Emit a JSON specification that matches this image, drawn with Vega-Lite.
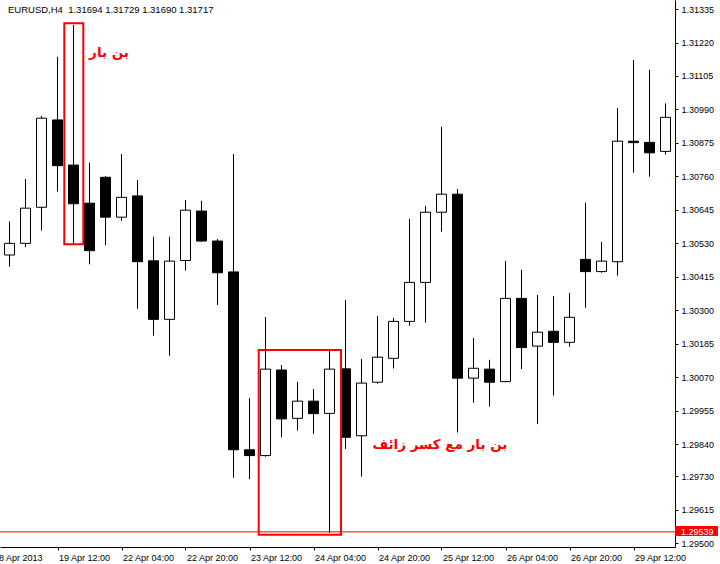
{
  "$schema": "https://vega.github.io/schema/vega-lite/v6.json",
  "width": 675,
  "height": 547,
  "autosize": {"type": "none"},
  "padding": {"left": 0, "top": 0, "right": 45, "bottom": 17},
  "background": "white",
  "config": {"view": {"stroke": null}, "font": "Liberation Sans", "scale": {"continuousPadding": 0},
    "axisX": {"title": null, "grid": false, "labelAlign": "left", "labelBaseline": "top", "labelPadding": 3, "labelFlush": false, "labelOverlap": false, "labelBound": false, "tickSize": 3, "tickColor": "#000000", "domainColor": "#000000", "labelColor": "#000000", "labelFont": "Liberation Sans", "labelFontSize": 9},
    "axisY": {"title": null, "grid": false, "labelFlush": false, "labelOverlap": false, "labelBound": false, "tickSize": 3, "labelPadding": 3, "tickColor": "#000000", "domainColor": "#000000", "labelColor": "#000000", "labelFont": "Liberation Sans", "labelFontSize": 9}
  },
  "title": {"text": "EURUSD,H4\u00a0\u00a01.31694 1.31729 1.31690 1.31717", "anchor": "start", "orient": "top", "frame": "group", "offset": -22, "baseline": "alphabetic", "dx": 8, "fontSize": 9.5, "fontWeight": "normal", "color": "#000000", "font": "Liberation Sans"},
  "datasets": {
    "bars": [
      {"i": 0, "t": "19 Apr 00:00", "open": 1.30490, "high": 1.30605, "low": 1.30450, "close": 1.30530},
      {"i": 1, "t": "19 Apr 04:00", "open": 1.30530, "high": 1.30751, "low": 1.30517, "close": 1.30651},
      {"i": 2, "t": "19 Apr 08:00", "open": 1.30654, "high": 1.30968, "low": 1.30574, "close": 1.30960},
      {"i": 3, "t": "19 Apr 12:00", "open": 1.30954, "high": 1.31171, "low": 1.30708, "close": 1.30797},
      {"i": 4, "t": "19 Apr 16:00", "open": 1.30799, "high": 1.31280, "low": 1.30527, "close": 1.30666},
      {"i": 5, "t": "19 Apr 20:00", "open": 1.30668, "high": 1.30807, "low": 1.30458, "close": 1.30505},
      {"i": 6, "t": "22 Apr 00:00", "open": 1.30757, "high": 1.30761, "low": 1.30524, "close": 1.30620},
      {"i": 7, "t": "22 Apr 04:00", "open": 1.30620, "high": 1.30837, "low": 1.30608, "close": 1.30688},
      {"i": 8, "t": "22 Apr 08:00", "open": 1.30693, "high": 1.30748, "low": 1.30305, "close": 1.30467},
      {"i": 9, "t": "22 Apr 12:00", "open": 1.30470, "high": 1.30553, "low": 1.30213, "close": 1.30269},
      {"i": 10, "t": "22 Apr 16:00", "open": 1.30269, "high": 1.30553, "low": 1.30144, "close": 1.30469},
      {"i": 11, "t": "22 Apr 20:00", "open": 1.30471, "high": 1.30679, "low": 1.30436, "close": 1.30644},
      {"i": 12, "t": "23 Apr 00:00", "open": 1.30641, "high": 1.30676, "low": 1.30536, "close": 1.30538},
      {"i": 13, "t": "23 Apr 04:00", "open": 1.30538, "high": 1.30545, "low": 1.30318, "close": 1.30429},
      {"i": 14, "t": "23 Apr 08:00", "open": 1.30432, "high": 1.30837, "low": 1.29725, "close": 1.29821},
      {"i": 15, "t": "23 Apr 12:00", "open": 1.29821, "high": 1.29998, "low": 1.29720, "close": 1.29801},
      {"i": 16, "t": "23 Apr 16:00", "open": 1.29801, "high": 1.30277, "low": 1.29797, "close": 1.30098},
      {"i": 17, "t": "23 Apr 20:00", "open": 1.30095, "high": 1.30112, "low": 1.29863, "close": 1.29927},
      {"i": 18, "t": "24 Apr 00:00", "open": 1.29929, "high": 1.30054, "low": 1.29887, "close": 1.29988},
      {"i": 19, "t": "24 Apr 04:00", "open": 1.29988, "high": 1.30030, "low": 1.29876, "close": 1.29945},
      {"i": 20, "t": "24 Apr 08:00", "open": 1.29946, "high": 1.30164, "low": 1.29536, "close": 1.30098},
      {"i": 21, "t": "24 Apr 12:00", "open": 1.30099, "high": 1.30336, "low": 1.29824, "close": 1.29864},
      {"i": 22, "t": "24 Apr 16:00", "open": 1.29869, "high": 1.30133, "low": 1.29729, "close": 1.30050},
      {"i": 23, "t": "24 Apr 20:00", "open": 1.30053, "high": 1.30281, "low": 1.30048, "close": 1.30139},
      {"i": 24, "t": "25 Apr 00:00", "open": 1.30135, "high": 1.30274, "low": 1.30100, "close": 1.30262},
      {"i": 25, "t": "25 Apr 04:00", "open": 1.30262, "high": 1.30614, "low": 1.30247, "close": 1.30396},
      {"i": 26, "t": "25 Apr 08:00", "open": 1.30396, "high": 1.30658, "low": 1.30258, "close": 1.30637},
      {"i": 27, "t": "25 Apr 12:00", "open": 1.30637, "high": 1.30931, "low": 1.30570, "close": 1.30699},
      {"i": 28, "t": "25 Apr 16:00", "open": 1.30699, "high": 1.30717, "low": 1.29880, "close": 1.30067},
      {"i": 29, "t": "25 Apr 20:00", "open": 1.30067, "high": 1.30205, "low": 1.29983, "close": 1.30101},
      {"i": 30, "t": "26 Apr 00:00", "open": 1.30098, "high": 1.30130, "low": 1.29969, "close": 1.30053},
      {"i": 31, "t": "26 Apr 04:00", "open": 1.30055, "high": 1.30470, "low": 1.30053, "close": 1.30341},
      {"i": 32, "t": "26 Apr 08:00", "open": 1.30341, "high": 1.30439, "low": 1.30098, "close": 1.30172},
      {"i": 33, "t": "26 Apr 12:00", "open": 1.30177, "high": 1.30353, "low": 1.29909, "close": 1.30225},
      {"i": 34, "t": "26 Apr 16:00", "open": 1.30228, "high": 1.30349, "low": 1.30007, "close": 1.30190},
      {"i": 35, "t": "26 Apr 20:00", "open": 1.30190, "high": 1.30360, "low": 1.30175, "close": 1.30276},
      {"i": 36, "t": "29 Apr 00:00", "open": 1.30475, "high": 1.30670, "low": 1.30309, "close": 1.30433},
      {"i": 37, "t": "29 Apr 04:00", "open": 1.30433, "high": 1.30535, "low": 1.30429, "close": 1.30469},
      {"i": 38, "t": "29 Apr 08:00", "open": 1.30467, "high": 1.30995, "low": 1.30419, "close": 1.30881},
      {"i": 39, "t": "29 Apr 12:00", "open": 1.30881, "high": 1.31160, "low": 1.30773, "close": 1.30876},
      {"i": 40, "t": "29 Apr 16:00", "open": 1.30877, "high": 1.31126, "low": 1.30759, "close": 1.30841},
      {"i": 41, "t": "29 Apr 20:00", "open": 1.30846, "high": 1.31011, "low": 1.30835, "close": 1.30963}
    ],
    "boxes": [
      {"x1": 3.425, "x2": 4.6125, "top": 1.31286, "bottom": 1.30527},
      {"x1": 15.575, "x2": 20.72, "top": 1.30164, "bottom": 1.29529}
    ],
    "notes": [
      {"i": 6.22, "price": 1.31184, "label": "بن بار"},
      {"i": 26.9, "price": 1.29838, "label": "بن بار مع كسر زائف"}
    ],
    "level": [
      {"price": 1.29539, "label": "1.29539", "x1": 41.59375, "x2": 44.28, "top": 1.29559, "bottom": 1.29525, "tx": 41.97}
    ]
  },
  "layer": [
    {
      "data": {"name": "level"},
      "mark": {"type": "rule", "color": "#ff0000", "strokeWidth": 1},
      "encoding": {
        "y": {"field": "price", "type": "quantitative", "scale": {"domain": [1.29487, 1.31366], "nice": false, "zero": false, "padding": 0},
          "axis": {"orient": "right", "values": [1.31335, 1.3122, 1.31105, 1.3099, 1.30875, 1.3076, 1.30645, 1.3053, 1.30415, 1.303, 1.30185, 1.3007, 1.29955, 1.2984, 1.2973, 1.29615, 1.295], "format": ".5f"}}
      }
    },
    {
      "data": {"name": "bars"},
      "mark": {"type": "rule", "color": "#000000", "strokeWidth": 1},
      "encoding": {
        "x": {"field": "i", "type": "quantitative", "scale": {"domain": [-0.59375, 41.59375], "nice": false, "zero": false, "padding": 0},
          "axis": {"values": [-0.59375, 3, 7, 11, 15, 19, 23, 27, 31, 35, 39],
            "labelExpr": "datum.value < 0 ? '18 Apr 2013' : ['18 Apr 2013','19 Apr 12:00','22 Apr 04:00','22 Apr 20:00','23 Apr 12:00','24 Apr 04:00','24 Apr 20:00','25 Apr 12:00','26 Apr 04:00','26 Apr 20:00','29 Apr 12:00'][(datum.value+1)/4]",
            "labelOffset": {"condition": {"test": "datum.value < 0", "value": -6.5}, "value": 1},
            "tickOpacity": {"condition": {"test": "datum.value < 0", "value": 0}, "value": 1}}},
        "y": {"field": "low", "type": "quantitative", "scale": {"domain": [1.29487, 1.31366], "nice": false, "zero": false, "padding": 0},
          "axis": {"orient": "right", "values": [1.31335, 1.3122, 1.31105, 1.3099, 1.30875, 1.3076, 1.30645, 1.3053, 1.30415, 1.303, 1.30185, 1.3007, 1.29955, 1.2984, 1.2973, 1.29615, 1.295], "format": ".5f"}},
        "y2": {"field": "high"}
      }
    },
    {
      "data": {"name": "bars"},
      "mark": {"type": "bar", "size": 10, "stroke": "#000000", "strokeWidth": 1},
      "encoding": {
        "x": {"field": "i", "type": "quantitative", "scale": {"domain": [-0.59375, 41.59375], "nice": false, "zero": false, "padding": 0},
          "axis": {"values": [-0.59375, 3, 7, 11, 15, 19, 23, 27, 31, 35, 39],
            "labelExpr": "datum.value < 0 ? '18 Apr 2013' : ['18 Apr 2013','19 Apr 12:00','22 Apr 04:00','22 Apr 20:00','23 Apr 12:00','24 Apr 04:00','24 Apr 20:00','25 Apr 12:00','26 Apr 04:00','26 Apr 20:00','29 Apr 12:00'][(datum.value+1)/4]",
            "labelOffset": {"condition": {"test": "datum.value < 0", "value": -6.5}, "value": 1},
            "tickOpacity": {"condition": {"test": "datum.value < 0", "value": 0}, "value": 1}}},
        "y": {"field": "open", "type": "quantitative", "scale": {"domain": [1.29487, 1.31366], "nice": false, "zero": false, "padding": 0},
          "axis": {"orient": "right", "values": [1.31335, 1.3122, 1.31105, 1.3099, 1.30875, 1.3076, 1.30645, 1.3053, 1.30415, 1.303, 1.30185, 1.3007, 1.29955, 1.2984, 1.2973, 1.29615, 1.295], "format": ".5f"}},
        "y2": {"field": "close"},
        "fill": {"condition": {"test": "datum.close < datum.open", "value": "#000000"}, "value": "#ffffff"}
      }
    },
    {
      "data": {"name": "boxes"},
      "mark": {"type": "rect", "fill": null, "fillOpacity": 0, "stroke": "#ff0000", "strokeWidth": 2},
      "encoding": {
        "x": {"field": "x1", "type": "quantitative", "scale": {"domain": [-0.59375, 41.59375], "nice": false, "zero": false, "padding": 0},
          "axis": {"values": [-0.59375, 3, 7, 11, 15, 19, 23, 27, 31, 35, 39],
            "labelExpr": "datum.value < 0 ? '18 Apr 2013' : ['18 Apr 2013','19 Apr 12:00','22 Apr 04:00','22 Apr 20:00','23 Apr 12:00','24 Apr 04:00','24 Apr 20:00','25 Apr 12:00','26 Apr 04:00','26 Apr 20:00','29 Apr 12:00'][(datum.value+1)/4]",
            "labelOffset": {"condition": {"test": "datum.value < 0", "value": -6.5}, "value": 1},
            "tickOpacity": {"condition": {"test": "datum.value < 0", "value": 0}, "value": 1}}},
        "x2": {"field": "x2"},
        "y": {"field": "top", "type": "quantitative", "scale": {"domain": [1.29487, 1.31366], "nice": false, "zero": false, "padding": 0},
          "axis": {"orient": "right", "values": [1.31335, 1.3122, 1.31105, 1.3099, 1.30875, 1.3076, 1.30645, 1.3053, 1.30415, 1.303, 1.30185, 1.3007, 1.29955, 1.2984, 1.2973, 1.29615, 1.295], "format": ".5f"}},
        "y2": {"field": "bottom"}
      }
    },
    {
      "data": {"name": "notes"},
      "mark": {"type": "text", "color": "#ff0000", "font": "DejaVu Sans", "fontWeight": "bold", "fontSize": 13.5, "align": "center", "baseline": "middle"},
      "encoding": {
        "x": {"field": "i", "type": "quantitative", "scale": {"domain": [-0.59375, 41.59375], "nice": false, "zero": false, "padding": 0},
          "axis": {"values": [-0.59375, 3, 7, 11, 15, 19, 23, 27, 31, 35, 39],
            "labelExpr": "datum.value < 0 ? '18 Apr 2013' : ['18 Apr 2013','19 Apr 12:00','22 Apr 04:00','22 Apr 20:00','23 Apr 12:00','24 Apr 04:00','24 Apr 20:00','25 Apr 12:00','26 Apr 04:00','26 Apr 20:00','29 Apr 12:00'][(datum.value+1)/4]",
            "labelOffset": {"condition": {"test": "datum.value < 0", "value": -6.5}, "value": 1},
            "tickOpacity": {"condition": {"test": "datum.value < 0", "value": 0}, "value": 1}}},
        "y": {"field": "price", "type": "quantitative", "scale": {"domain": [1.29487, 1.31366], "nice": false, "zero": false, "padding": 0},
          "axis": {"orient": "right", "values": [1.31335, 1.3122, 1.31105, 1.3099, 1.30875, 1.3076, 1.30645, 1.3053, 1.30415, 1.303, 1.30185, 1.3007, 1.29955, 1.2984, 1.2973, 1.29615, 1.295], "format": ".5f"}},
        "text": {"field": "label"}
      }
    },
    {
      "data": {"name": "level"},
      "mark": {"type": "rect", "fill": "#ff0000", "stroke": null},
      "encoding": {
        "x": {"field": "x1", "type": "quantitative", "scale": {"domain": [-0.59375, 41.59375], "nice": false, "zero": false, "padding": 0},
          "axis": {"values": [-0.59375, 3, 7, 11, 15, 19, 23, 27, 31, 35, 39],
            "labelExpr": "datum.value < 0 ? '18 Apr 2013' : ['18 Apr 2013','19 Apr 12:00','22 Apr 04:00','22 Apr 20:00','23 Apr 12:00','24 Apr 04:00','24 Apr 20:00','25 Apr 12:00','26 Apr 04:00','26 Apr 20:00','29 Apr 12:00'][(datum.value+1)/4]",
            "labelOffset": {"condition": {"test": "datum.value < 0", "value": -6.5}, "value": 1},
            "tickOpacity": {"condition": {"test": "datum.value < 0", "value": 0}, "value": 1}}},
        "x2": {"field": "x2"},
        "y": {"field": "top", "type": "quantitative", "scale": {"domain": [1.29487, 1.31366], "nice": false, "zero": false, "padding": 0},
          "axis": {"orient": "right", "values": [1.31335, 1.3122, 1.31105, 1.3099, 1.30875, 1.3076, 1.30645, 1.3053, 1.30415, 1.303, 1.30185, 1.3007, 1.29955, 1.2984, 1.2973, 1.29615, 1.295], "format": ".5f"}},
        "y2": {"field": "bottom"}
      }
    },
    {
      "data": {"name": "level"},
      "mark": {"type": "text", "color": "#ffffff", "font": "Liberation Sans", "fontSize": 9, "align": "left", "baseline": "middle"},
      "encoding": {
        "x": {"field": "tx", "type": "quantitative", "scale": {"domain": [-0.59375, 41.59375], "nice": false, "zero": false, "padding": 0},
          "axis": {"values": [-0.59375, 3, 7, 11, 15, 19, 23, 27, 31, 35, 39],
            "labelExpr": "datum.value < 0 ? '18 Apr 2013' : ['18 Apr 2013','19 Apr 12:00','22 Apr 04:00','22 Apr 20:00','23 Apr 12:00','24 Apr 04:00','24 Apr 20:00','25 Apr 12:00','26 Apr 04:00','26 Apr 20:00','29 Apr 12:00'][(datum.value+1)/4]",
            "labelOffset": {"condition": {"test": "datum.value < 0", "value": -6.5}, "value": 1},
            "tickOpacity": {"condition": {"test": "datum.value < 0", "value": 0}, "value": 1}}},
        "y": {"field": "price", "type": "quantitative", "scale": {"domain": [1.29487, 1.31366], "nice": false, "zero": false, "padding": 0},
          "axis": {"orient": "right", "values": [1.31335, 1.3122, 1.31105, 1.3099, 1.30875, 1.3076, 1.30645, 1.3053, 1.30415, 1.303, 1.30185, 1.3007, 1.29955, 1.2984, 1.2973, 1.29615, 1.295], "format": ".5f"}},
        "text": {"field": "label"}
      }
    }
  ]
}
